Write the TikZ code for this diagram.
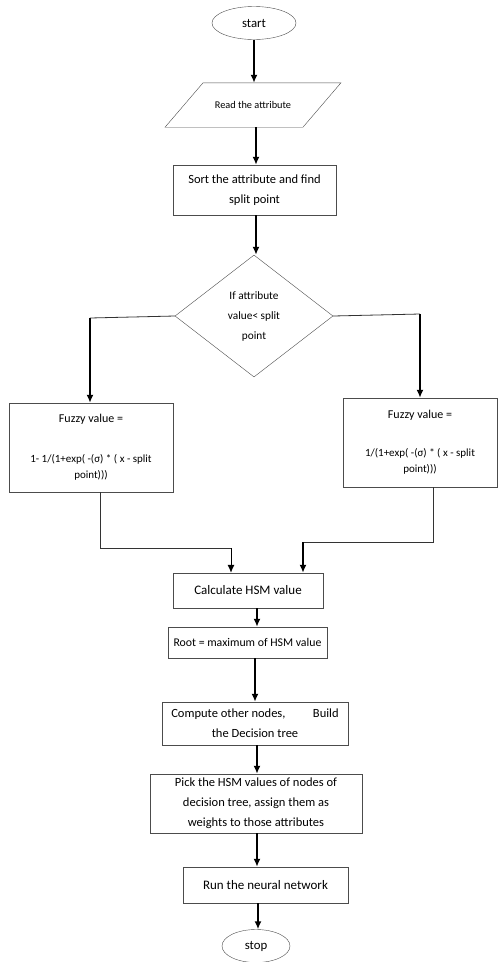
\documentclass[tikz,border=0pt]{standalone}
\usepackage{fontspec}
\setmainfont{Carlito}
\usetikzlibrary{shapes.geometric,arrows.meta}
\begin{document}
\begin{tikzpicture}[x=1pt,y=-1pt,
    box/.style={draw=black!70,rectangle,align=center,inner sep=2pt,
      font=\fontsize{12.5}{20}\selectfont},
    term/.style={draw=black!70,ellipse,inner sep=0pt,font=\fontsize{12.8}{14}\selectfont},
    io/.style={rectangle,inner sep=0pt,font=\fontsize{10.3}{12}\selectfont},
    cond/.style={draw=black!70,diamond,align=center,inner sep=0pt,
      font=\fontsize{11.3}{20}\selectfont},
    fuzzy/.style={box,font=\fontsize{11}{16}\selectfont},
    flow/.style={-{Latex[length=8pt,width=7pt]},line width=1.6pt},
    link/.style={line width=0.8pt,draw=black!80}]
  \useasboundingbox (0,0) rectangle (502,962);
  \draw
    (254,23) node[term,minimum width=84,minimum height=33] (start){start}
    (253,105) node[io,minimum width=137.5,minimum height=44] (read){Read the attribute}
    (254.5,190) node[box,minimum width=163,minimum height=50] (sort){Sort the attribute and find\\split point}
    (254,316) node[cond,minimum width=158,minimum height=122] (cond){If attribute\\value< split\\point}
    (91,447.5) node[fuzzy,minimum width=164,minimum height=89] (fuzl){{\fontsize{12}{15}\selectfont Fuzzy value =}\\[24pt]
      1- 1/(1+exp( -(σ) * ( x - split\\point)))}
    (420,442.5) node[fuzzy,minimum width=154,minimum height=89] (fuzr){{\fontsize{12}{15}\selectfont Fuzzy value =}\\[22pt]
      1/(1+exp( -(σ) * ( x - split\\point)))}
    (248,590.5) node[box,minimum width=150,minimum height=35,font=\fontsize{13}{20}\selectfont] (calc){Calculate HSM value}
    (247.5,642.5) node[box,minimum width=159,minimum height=31,font=\fontsize{11.8}{20}\selectfont] (root){Root = maximum of HSM value}
    (255,723.5) node[box,minimum width=186,minimum height=43] (comp){Compute other nodes,\hspace{2.2em}Build\\the Decision tree}
    (256,803.5) node[box,minimum width=212,minimum height=59] (pick){Pick the HSM values of nodes of\\decision tree, assign them as\\weights to those attributes}
    (265.5,885) node[box,minimum width=165,minimum height=36,font=\fontsize{13}{20}\selectfont] (run){Run the neural network}
    (256,946) node[term,minimum width=68,minimum height=33] (stop){stop};
  % parallelogram outline round the input node
  \draw[draw=black!70] ([xshift=19pt]read.north west) -- ([xshift=19pt]read.north east)
    -- ([xshift=-19pt]read.south east) -- ([xshift=-19pt]read.south west) -- cycle;
  \coordinate (ax) at (257,0);
  \coordinate (ay) at (256,0);
  \coordinate (bl) at (100,548);
  \coordinate (br) at (433,542);
  \begin{scope}[flow]
    \draw (start) to (read.north -| start);
    \draw (read.south -| ay) to (sort.north -| ay);
    \draw (sort.south -| ay) to (cond.north -| ay);
    \draw[link,-] (cond.west) -- (90,318);
    \draw (90,318) -- (90,318 |- fuzl.north);
    \draw[link,-] (cond.east) -- (420,314);
    \draw (420,314) -- (420,314 |- fuzr.north);
    \draw[link,-] (fuzl.south -| bl) -- (bl) -- (231,548);
    \draw[line width=1pt] (231,548) -- (231,548 |- calc.north);
    \draw[link,-] (fuzr.south -| br) -- (br) -- (303,542);
    \draw (303,542) -- (303,542 |- calc.north);
    \draw (calc.south -| ax) to (root.north -| ax);
    \draw (root.south -| 255,0) to (comp.north -| 255,0);
    \draw (comp.south -| ax) to (pick.north -| ax);
    \draw (pick.south -| ax) to (run.north -| ax);
    \draw (run.south -| 258,0) to (stop.north -| 258,0);
  \end{scope}
\end{tikzpicture}
\end{document}
